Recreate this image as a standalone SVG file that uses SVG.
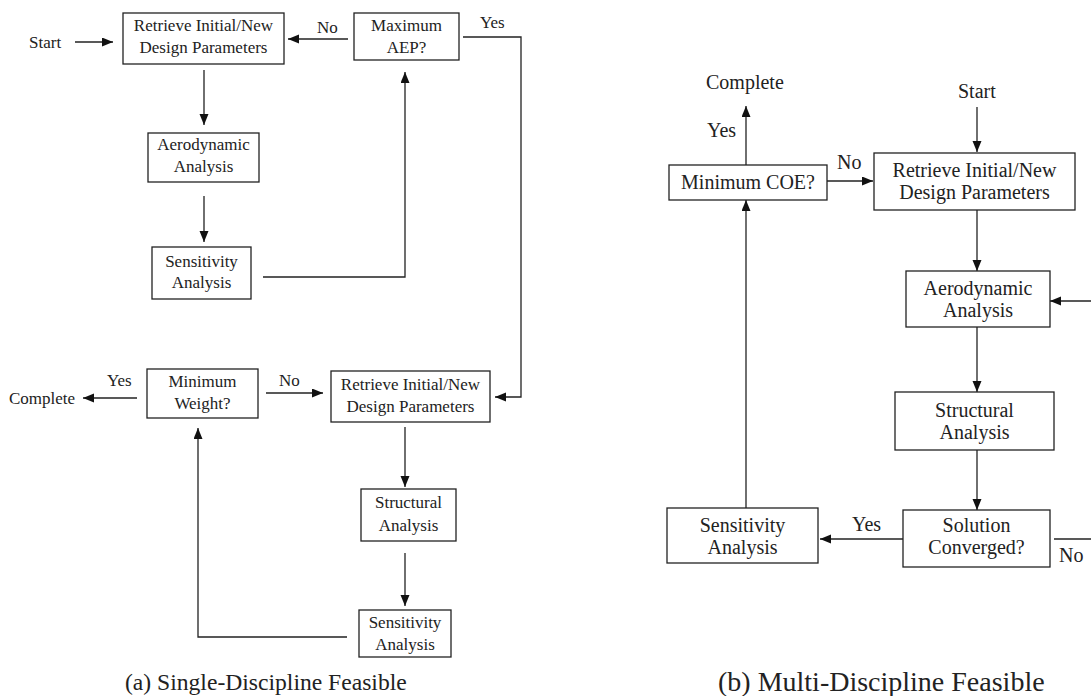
<svg xmlns="http://www.w3.org/2000/svg" width="1091" height="696" viewBox="0 0 1091 696">
<style>
.box{fill:#fff;stroke:#222;stroke-width:1.3}
.t{font-family:"Liberation Serif","DejaVu Serif",serif;font-size:17px;fill:#222;text-anchor:middle}
.tb{font-family:"Liberation Serif","DejaVu Serif",serif;font-size:20px;fill:#222;text-anchor:middle}
.l{font-family:"Liberation Serif","DejaVu Serif",serif;font-size:17px;fill:#222}
.lb{font-family:"Liberation Serif","DejaVu Serif",serif;font-size:20px;fill:#222}
.cap{font-family:"Liberation Serif","DejaVu Serif",serif;font-size:23.6px;fill:#222}
.capb{font-family:"Liberation Serif","DejaVu Serif",serif;font-size:28px;fill:#222}
.c{fill:none;stroke:#222;stroke-width:1.3}
</style>
<defs>
<marker id="ah" markerUnits="userSpaceOnUse" markerWidth="12" markerHeight="10" refX="11" refY="4.5" orient="auto">
<path d="M0,0 L11,4.5 L0,9 z" fill="#111"/>
</marker>
</defs>
<rect width="1091" height="696" fill="#fff"/>
<g id="connectors">
<path class="c" d="M75,42 H113" marker-end="url(#ah)"/>
<path class="c" d="M348,39 H288" marker-end="url(#ah)"/>
<path class="c" d="M463,37 H521 V397 H495" marker-end="url(#ah)"/>
<path class="c" d="M204,70 V125" marker-end="url(#ah)"/>
<path class="c" d="M204,196 V242" marker-end="url(#ah)"/>
<path class="c" d="M263,277 H405 V72" marker-end="url(#ah)"/>
<path class="c" d="M137,398 H83" marker-end="url(#ah)"/>
<path class="c" d="M266,393 H323" marker-end="url(#ah)"/>
<path class="c" d="M405,427 V487" marker-end="url(#ah)"/>
<path class="c" d="M405,553 V606" marker-end="url(#ah)"/>
<path class="c" d="M347,637 H198 V428" marker-end="url(#ah)"/>
<path class="c" d="M977,107 V152" marker-end="url(#ah)"/>
<path class="c" d="M746,165 V106" marker-end="url(#ah)"/>
<path class="c" d="M827,181 H873" marker-end="url(#ah)"/>
<path class="c" d="M977,210 V271" marker-end="url(#ah)"/>
<path class="c" d="M1091,301 H1050" marker-end="url(#ah)"/>
<path class="c" d="M977,327 V392" marker-end="url(#ah)"/>
<path class="c" d="M977,450 V510" marker-end="url(#ah)"/>
<path class="c" d="M903,539 H820" marker-end="url(#ah)"/>
<path class="c" d="M746,508 V200" marker-end="url(#ah)"/>
<path class="c" d="M1054,539 H1091"/>
</g>
<g id="labels">
<text class="l" x="29" y="48">Start</text>
<text class="l" x="317" y="33">No</text>
<text class="l" x="480" y="28">Yes</text>
<text class="l" x="9" y="404">Complete</text>
<text class="l" x="107" y="386">Yes</text>
<text class="l" x="279" y="386">No</text>
<text class="lb" x="706" y="89">Complete</text>
<text class="lb" x="707" y="137">Yes</text>
<text class="lb" x="837" y="169">No</text>
<text class="lb" x="958" y="98">Start</text>
<text class="lb" x="852" y="531">Yes</text>
<text class="lb" x="1059" y="562">No</text>
<text class="cap" x="125" y="690">(a) Single-Discipline Feasible</text>
<text class="capb" x="718" y="691">(b) Multi-Discipline Feasible</text>
</g>
<g id="retrieve-a1"><rect class="box" x="123" y="13" width="161" height="51"/><text class="t" x="203.5" y="31">Retrieve Initial/New</text><text class="t" x="203.5" y="53">Design Parameters</text></g>
<g id="max-aep"><rect class="box" x="354" y="13" width="105" height="47"/><text class="t" x="406.5" y="31">Maximum</text><text class="t" x="406.5" y="53">AEP?</text></g>
<g id="aero-a"><rect class="box" x="148" y="133" width="111" height="49"/><text class="t" x="203.5" y="150">Aerodynamic</text><text class="t" x="203.5" y="172">Analysis</text></g>
<g id="sens-a1"><rect class="box" x="152" y="247" width="99" height="52"/><text class="t" x="201.5" y="267">Sensitivity</text><text class="t" x="201.5" y="288">Analysis</text></g>
<g id="min-weight"><rect class="box" x="147" y="369" width="111" height="49"/><text class="t" x="202.5" y="387">Minimum</text><text class="t" x="202.5" y="409">Weight?</text></g>
<g id="retrieve-a2"><rect class="box" x="331" y="371" width="159" height="51"/><text class="t" x="410.5" y="390">Retrieve Initial/New</text><text class="t" x="410.5" y="412">Design Parameters</text></g>
<g id="struct-a"><rect class="box" x="361" y="489" width="95" height="52"/><text class="t" x="408.5" y="508">Structural</text><text class="t" x="408.5" y="531">Analysis</text></g>
<g id="sens-a2"><rect class="box" x="359" y="610" width="92" height="47"/><text class="t" x="405" y="628">Sensitivity</text><text class="t" x="405" y="650">Analysis</text></g>
<g id="min-coe"><rect class="box" x="669" y="165" width="158" height="35"/><text class="tb" x="748" y="189">Minimum COE?</text></g>
<g id="retrieve-b"><rect class="box" x="874" y="153" width="201" height="57"/><text class="tb" x="974.5" y="177">Retrieve Initial/New</text><text class="tb" x="974.5" y="199">Design Parameters</text></g>
<g id="aero-b"><rect class="box" x="906" y="271" width="144" height="56"/><text class="tb" x="978" y="295">Aerodynamic</text><text class="tb" x="978" y="317">Analysis</text></g>
<g id="struct-b"><rect class="box" x="895" y="392" width="159" height="58"/><text class="tb" x="974.5" y="417">Structural</text><text class="tb" x="974.5" y="439">Analysis</text></g>
<g id="solution"><rect class="box" x="903" y="510" width="147" height="57"/><text class="tb" x="976.5" y="532">Solution</text><text class="tb" x="976.5" y="554">Converged?</text></g>
<g id="sens-b"><rect class="box" x="667" y="508" width="151" height="55"/><text class="tb" x="742.5" y="532">Sensitivity</text><text class="tb" x="742.5" y="554">Analysis</text></g>
</svg>
